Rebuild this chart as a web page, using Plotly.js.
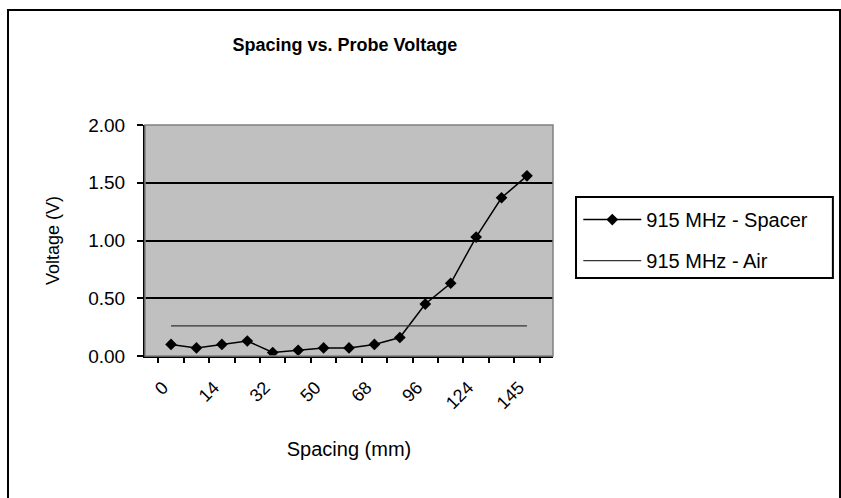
<!DOCTYPE html>
<html>
<head>
<meta charset="utf-8">
<script src="https://cdn.plot.ly/plotly-3.0.1.min.js"></script>
<style>
  html, body { margin: 0; padding: 0; background: #ffffff; }
  #wrap { position: relative; width: 841px; height: 498px; overflow: hidden; }
  #chart { width: 841px; height: 498px; }
  #frame { position: absolute; left: 7px; top: 9px; width: 834px; height: 494px;
           border: 2px solid #000; pointer-events: none; box-sizing: border-box; }
</style>
</head>
<body>
<div id="wrap">
  <div id="chart"></div>
  <div id="frame"></div>
</div>
<script>
// Spacing categories (mm); only every other one is labelled on the axis
const spacing = ["0", "7", "14", "23", "32", "41", "50", "59", "68", "82", "96", "110", "124", "135", "145"];
const spacingLabels = ["0", "", "14", "", "32", "", "50", "", "68", "", "96", "", "124", "", "145"];
// Voltage (V)
const spacerVoltage = [0.10, 0.07, 0.10, 0.13, 0.03, 0.05, 0.07, 0.07, 0.10, 0.16, 0.45, 0.63, 1.03, 1.37, 1.56];
const airVoltage = [0.26, 0.26, 0.26, 0.26, 0.26, 0.26, 0.26, 0.26, 0.26, 0.26, 0.26, 0.26, 0.26, 0.26, 0.26];
const yTicks = [0, 0.5, 1.0, 1.5, 2.0];

const font = "Liberation Sans, Arial, sans-serif";

const traces = [
  {
    x: spacing, y: spacerVoltage, type: "scatter", mode: "lines+markers",
    name: "915 MHz - Spacer", legendgroup: "a",
    line: { color: "#000000", width: 1.5 },
    marker: { symbol: "diamond", size: 9, color: "#000000" }
  },
  {
    x: spacing, y: airVoltage, type: "scatter", mode: "lines",
    name: "915 MHz - Air", legendgroup: "b",
    line: { color: "#333333", width: 1.2 }
  }
];

const layout = {
  width: 841, height: 498,
  margin: { l: 145, r: 288, t: 125, b: 142 },
  paper_bgcolor: "#ffffff",
  plot_bgcolor: "#c0c0c0",
  font: { family: font, size: 18, color: "#000000" },
  title: {
    text: "<b>Spacing vs. Probe Voltage</b>",
    font: { family: font, size: 18, color: "#000000" },
    xref: "container", x: 0.41, xanchor: "center",
    yref: "container", y: 0.91, yanchor: "middle"
  },
  xaxis: {
    type: "category",
    tickmode: "array", tickvals: spacing, ticktext: spacingLabels,
    tickson: "boundaries",
    ticks: "outside", ticklen: 5, tickwidth: 2, tickcolor: "#000",
    tickangle: -45,
    ticklabelstandoff: 12, ticklabelshift: -8,
    showgrid: false, zeroline: false,
    showline: true, linecolor: "#000", linewidth: 2,
    mirror: false,
    tickfont: { family: font, size: 18 },
    title: { text: "Spacing (mm)", font: { family: font, size: 20 }, standoff: 30 }
  },
  yaxis: {
    range: [0, 2.0],
    tickmode: "array", tickvals: yTicks,
    tickformat: ".2f",
    ticks: "outside", ticklen: 6, tickwidth: 2, tickcolor: "#000",
    ticklabelstandoff: 8,
    showgrid: true, gridcolor: "#000000", gridwidth: 2,
    zeroline: false,
    showline: true, linecolor: "#000", linewidth: 2,
    tickfont: { family: font, size: 19 },
    title: { text: "Voltage (V)", font: { family: font, size: 18 }, standoff: 24 }
  },
  shapes: [
    { type: "rect", xref: "paper", yref: "paper", x0: 0, x1: 1, y0: 0, y1: 1,
      line: { color: "#808080", width: 1.5 }, fillcolor: "rgba(0,0,0,0)", layer: "above" },
    // legend frame
    { type: "rect", xref: "paper", yref: "paper", x0: 1.0564, x1: 1.686, y0: 0.3377, y1: 0.688,
      line: { color: "#000000", width: 2 }, fillcolor: "rgba(0,0,0,0)", layer: "above" }
  ],
  showlegend: true,
  legend: {
    x: 1.062, xanchor: "left", y: 0.675, yanchor: "top",
    bgcolor: "rgba(0,0,0,0)", borderwidth: 0,
    font: { family: font, size: 20, color: "#000" },
    itemwidth: 58, tracegroupgap: 12
  }
};

Plotly.newPlot("chart", traces, layout, { displayModeBar: false, staticPlot: true });
</script>
</body>
</html>
